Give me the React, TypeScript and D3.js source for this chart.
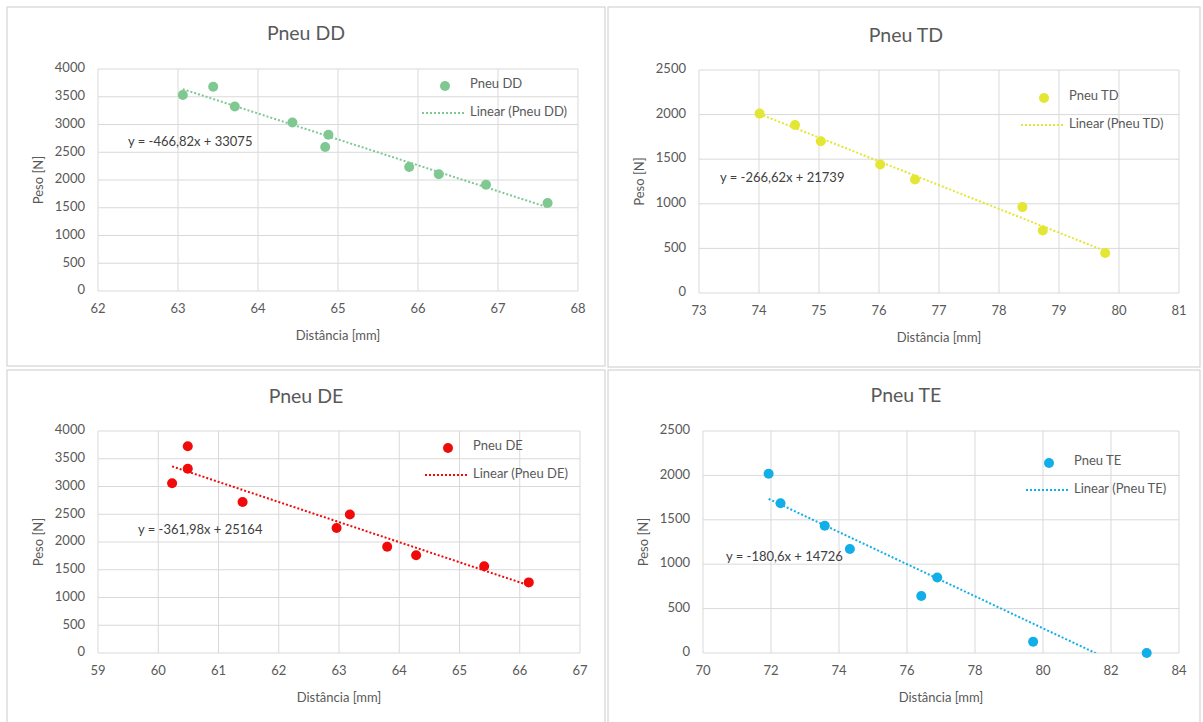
import React from "react";
import * as d3 from "d3";

// Distância [mm] / Peso [N] per tyre
const ddX = [63.06, 63.44, 63.71, 64.43, 64.88, 64.84, 65.89, 66.26, 66.85, 67.62];
const ddY = [3530, 3680, 3323, 3036, 2814, 2593, 2234, 2102, 1916, 1587];
const tdX = [74.01, 74.6, 75.03, 76.02, 76.6, 78.39, 78.73, 79.77];
const tdY = [2011, 1884, 1701, 1440, 1272, 963, 701, 448];
const deX = [60.23, 60.49, 60.49, 61.4, 62.96, 63.18, 63.8, 64.28, 65.41, 66.15];
const deY = [3057, 3725, 3319, 2722, 2251, 2496, 1916, 1761, 1564, 1272];
const teX = [71.93, 72.28, 73.58, 74.32, 76.42, 76.89, 79.71, 83.05];
const teY = [2019, 1687, 1433, 1172, 642, 851, 127, 0];

// trend lines (slope, intercept) and their labels
const ddFit = [-466.82, 33075];
const tdFit = [-266.62, 21739];
const deFit = [-361.98, 25164];
const teFit = [-180.6, 14726];
const fitLabels = ["y = -466,82x + 33075", "y = -266,62x + 21739", "y = -361,98x + 25164", "y = -180,6x + 14726"];

const names = ["Pneu DD", "Pneu TD", "Pneu DE", "Pneu TE"];
const xDomains = [[62, 68], [73, 81], [59, 67], [70, 84]];
const xSteps = [1, 1, 1, 2];
const yDomains = [[0, 4000], [0, 2500], [0, 4000], [0, 2500]];

const FONT = "Lato, 'Open Sans', sans-serif";
const GREY = "#595959";
const FS = 13;

const panels = [
  { name: names[0], xs: ddX, ys: ddY, fit: ddFit, label: fitLabels[0], color: "#7fc892",
    box: [7, 7, 598, 359], plot: [98, 578, 69, 291], title: [306, 35], legend: [445, 86], eq: [128, 143] },
  { name: names[1], xs: tdX, ys: tdY, fit: tdFit, label: fitLabels[1], color: "#e4e634",
    box: [608, 7, 592, 360], plot: [699, 1179, 70, 293], title: [906, 37], legend: [1044, 98], eq: [720, 179] },
  { name: names[2], xs: deX, ys: deY, fit: deFit, label: fitLabels[2], color: "#f00a0a",
    box: [7, 370, 598, 360], plot: [98, 580, 431, 653], title: [306, 398], legend: [448, 448], eq: [138, 531] },
  { name: names[3], xs: teX, ys: teY, fit: teFit, label: fitLabels[3], color: "#12aee8",
    box: [608, 370, 592, 360], plot: [703, 1179, 431, 653], title: [906, 397], legend: [1049, 463], eq: [726, 558] },
];

function Panel({ p, i }) {
  const [l, r, t, b] = p.plot;
  const xd = xDomains[i];
  const yd = yDomains[i];
  const x = d3.scaleLinear().domain(xd).range([l, r]);
  const y = d3.scaleLinear().domain(yd).range([b, t]);
  const xt = d3.range(xd[0], xd[1] + 0.001, xSteps[i]);
  const yt = d3.range(yd[0], yd[1] + 1, 500);
  const x0 = d3.min(p.xs);
  const x1 = d3.max(p.xs);
  const trend = d3.line()
    .x((d) => x(d))
    .y((d) => y(p.fit[0] * d + p.fit[1]));
  const clipId = "clip" + i;
  const midX = (l + r) / 2;
  const midY = (t + b) / 2;
  return (
    <g>
      <rect x={p.box[0]} y={p.box[1]} width={p.box[2]} height={p.box[3]} fill="#fff" stroke="#d4d4d4" strokeWidth={1.2} />
      <defs>
        <clipPath id={clipId}>
          <rect x={l} y={t} width={r - l} height={b - t} />
        </clipPath>
      </defs>
      <text x={p.title[0]} y={p.title[1]} textAnchor="middle" dominantBaseline="middle" fontSize={19.5} fill={GREY}>{p.name}</text>
      {yt.map((v) => (
        <line key={"gy" + v} x1={l} x2={r} y1={y(v)} y2={y(v)} stroke="#d9d9d9" strokeWidth={1} />
      ))}
      {xt.map((v) => (
        <line key={"gx" + v} x1={x(v)} x2={x(v)} y1={t} y2={b} stroke="#d9d9d9" strokeWidth={1} />
      ))}
      {yt.map((v) => (
        <text key={"ty" + v} x={l - 13} y={y(v)} textAnchor="end" dominantBaseline="middle" fontSize={FS} fill={GREY}>{v}</text>
      ))}
      {xt.map((v) => (
        <text key={"tx" + v} x={x(v)} y={b + 19} textAnchor="middle" dominantBaseline="middle" fontSize={FS} fill={GREY}>{v}</text>
      ))}
      <text x={midX} y={b + 46} textAnchor="middle" dominantBaseline="middle" fontSize={FS} fill={GREY}>Distância [mm]</text>
      <text transform={`translate(${l - 58},${midY}) rotate(-90)`} textAnchor="middle" dominantBaseline="middle" fontSize={FS} fill={GREY}>Peso [N]</text>
      <path d={trend([x0, x1])} clipPath={`url(#${clipId})`} fill="none" stroke={p.color} strokeWidth={2} strokeDasharray="2,2" />
      {p.xs.map((v, k) => (
        <circle key={"pt" + k} cx={x(v)} cy={y(p.ys[k])} r={5} fill={p.color} />
      ))}
      <text x={p.eq[0]} y={p.eq[1]} dominantBaseline="middle" fontSize={FS} fill="#404040">{p.label}</text>
      <circle cx={p.legend[0]} cy={p.legend[1]} r={5} fill={p.color} />
      <text x={p.legend[0] + 25} y={p.legend[1] - 1} dominantBaseline="middle" fontSize={FS} fill={GREY}>{p.name}</text>
      <line x1={p.legend[0] - 23} x2={p.legend[0] + 19} y1={p.legend[1] + 27} y2={p.legend[1] + 27} stroke={p.color} strokeWidth={2} strokeDasharray="2,2" />
      <text x={p.legend[0] + 25} y={p.legend[1] + 27} dominantBaseline="middle" fontSize={FS} fill={GREY}>{"Linear (" + p.name + ")"}</text>
    </g>
  );
}

export default function App() {
  return (
    <svg width={1203} height={722} style={{ position: "absolute", left: 0, top: 0, fontFamily: FONT }}>
      <rect width={1203} height={722} fill="#fff" />
      {panels.map((p, i) => (
        <Panel key={p.name} p={p} i={i} />
      ))}
    </svg>
  );
}
